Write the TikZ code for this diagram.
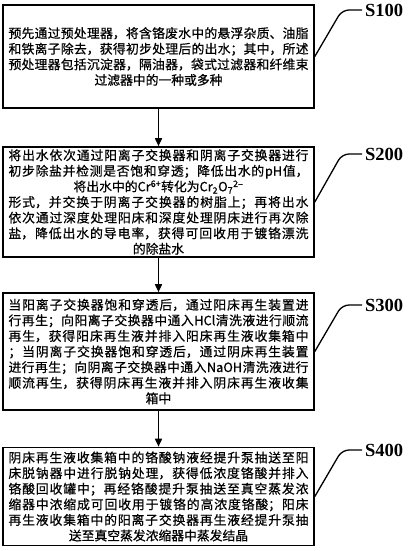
\documentclass[tikz,border=0pt]{standalone}
\usepackage{fontspec}
\newfontfamily\cjkfont{Noto Sans CJK SC}[FakeBold=0.6]
\newfontfamily\stepfont{Liberation Serif}
\usetikzlibrary{arrows.meta}
\XeTeXlinebreaklocale "zh"
\XeTeXlinebreakskip=0pt plus 2pt
\setlength{\parindent}{0pt}
\setlength{\parskip}{0pt}
\newcommand{\justpart}[1]{{\parindent=0pt\parfillskip=0pt\relax #1\par}}
\newcommand{\centpart}[1]{{\parindent=0pt\centering #1\par}}

\begin{document}
\begin{tikzpicture}[x=1bp,y=-1bp,
        procbox/.style={draw, line width=1.6bp, text width=300bp, inner xsep=5.5bp, inner ysep=0pt, align=justify,
                font=\cjkfont\fontsize{12.8bp}{15.6bp}\selectfont},
        flow/.style={line width=1.6bp, -{Triangle[width=7bp,length=8bp]}},
        leader/.style={line width=1.3bp, rounded corners=7bp},
        steplbl/.style={anchor=west, inner sep=3bp, font=\stepfont\bfseries\fontsize{18.5bp}{20bp}\selectfont}]
        \useasboundingbox (0,0) rectangle (408,551);
        \node[procbox, minimum height=103bp] (pretreat) at (158.5,56.5) {%
                \justpart{预先通过预处理器，将含铬废水中的悬浮杂质、油脂\linebreak
                和铁离子除去，获得初步处理后的出水；其中，所述\linebreak
                预处理器包括沉淀器，隔油器，袋式过滤器和纤维束}%
                \centpart{过滤器中的一种或多种}};
        \node[procbox, minimum height=110bp] (exchange) at (158.5,202) {%
                \justpart{将出水依次通过阳离子交换器和阴离子交换器进行\linebreak
                初步除盐并检测是否饱和穿透；降低出水的pH值，}%
                \centpart{将出水中的Cr\textsuperscript{6+}转化为Cr\textsubscript{2}O\textsubscript{7}\textsuperscript{2\textendash}}%
                \justpart{形式，并交换于阴离子交换器的树脂上；再将出水\linebreak
                依次通过深度处理阳床和深度处理阴床进行再次除\linebreak
                盐，降低出水的导电率，获得可回收用于镀铬漂洗}%
                \centpart{的除盐水}};
        \node[procbox, minimum height=117bp] (regen) at (158.5,351.5) {%
                \justpart{当阳离子交换器饱和穿透后，通过阳床再生装置进\linebreak
                行再生；向阳离子交换器中通入HCl清洗液进行顺流\linebreak
                再生，获得阳床再生液并排入阳床再生液收集箱中\linebreak
                ；当阴离子交换器饱和穿透后，通过阴床再生装置\linebreak
                进行再生；向阴离子交换器中通入NaOH清洗液进行\linebreak
                顺流再生，获得阴床再生液并排入阴床再生液收集}%
                \centpart{箱中}};
        \node[procbox, minimum height=98bp] (recover) at (158.5,496.5) {%
                \justpart{阴床再生液收集箱中的铬酸钠液经提升泵抽送至阳\linebreak
                床脱钠器中进行脱钠处理，获得低浓度铬酸并排入\linebreak
                铬酸回收罐中；再经铬酸提升泵抽送至真空蒸发浓\linebreak
                缩器中浓缩成可回收用于镀铬的高浓度铬酸；阳床\linebreak
                再生液收集箱中的阳离子交换器再生液经提升泵抽}%
                \centpart{送至真空蒸发浓缩器中蒸发结晶}};
        \draw[flow] (pretreat.south) -- (exchange.north);
        \draw[flow] (exchange.south) -- (regen.north);
        \draw[flow] (regen.south) -- (recover.north);
        \node[steplbl] (s100) at (362,10) {S100};
        \node[steplbl] (s200) at (362,154) {S200};
        \node[steplbl] (s300) at (362,305) {S300};
        \node[steplbl] (s400) at (362,450) {S400};
        \draw[leader] (pretreat.east) -- ([xshift=-20bp]s100.west) -- (s100.west);
        \draw[leader] (exchange.east) -- ([xshift=-20bp]s200.west) -- (s200.west);
        \draw[leader] (regen.east) -- ([xshift=-20bp]s300.west) -- (s300.west);
        \draw[leader] (recover.east) -- ([xshift=-20bp]s400.west) -- (s400.west);
\end{tikzpicture}
\end{document}
